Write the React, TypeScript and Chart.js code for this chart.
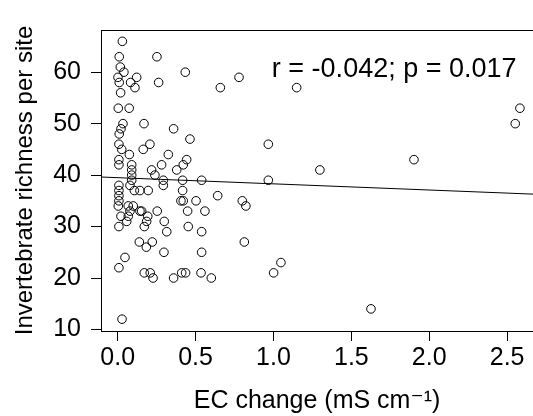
import React, { useEffect, useRef } from "react";
import { Chart, registerables } from "chart.js";

Chart.register(...registerables);

// EC change (mS cm^-1) per site
const ecChange: number[] = [
  0.030, 0.010, 0.252, 0.017, 0.040, 0.002, 0.010, 0.122, 0.083, 0.111, 0.263, 0.434, 0.659, 0.019, 0.004, 0.074, 0.034, 0.169, 0.021, 0.010, 0.359,
  0.779, 1.149, 0.967, 1.298, 0.967, 0.642, 0.800, 0.823, 0.813, 1.048, 1.001,
  2.582, 2.552, 1.902, 1.626,
  0.139, 0.222, 0.184, 0.297, 0.539, 0.047, 0.008, 0.171, 0.209, 0.227, 0.359, 0.411, 0.436, 0.535, 0.601, 0.028,
  0.008, 0.207, 0.026, 0.164, 0.464, 0.075, 0.325, 0.008, 0.008, 0.443, 0.421, 0.282, 0.090, 0.090, 0.218, 0.379, 0.090, 0.239, 0.090, 0.293,
  0.417, 0.539, 0.008, 0.079, 0.293, 0.008, 0.107, 0.143, 0.196, 0.417, 0.008, 0.008, 0.406, 0.421, 0.503, 0.004, 0.068, 0.100, 0.143, 0.154,
  0.079, 0.254, 0.449, 0.560, 0.021, 0.068, 0.193, 0.186, 0.299, 0.058, 0.008, 0.171, 0.315, 0.453, 0.539,
];

// Invertebrate richness per site
const richness: number[] = [
  66, 63, 63, 61, 60, 59, 58, 59, 58, 57, 58, 60, 57, 56, 53, 53, 50, 50, 49, 48, 49,
  59, 57, 46, 41, 39, 36, 35, 34, 27, 23, 21,
  53, 50, 43, 14,
  27, 27, 26, 25, 25, 24, 22, 21, 21, 20, 20, 21, 21, 21, 20, 12,
  46, 46, 45, 45, 47, 44, 44, 43, 42, 43, 42, 42, 42, 41, 41, 41, 40, 40, 39, 39,
  39, 39, 38, 38, 38, 37, 37, 37, 37, 37, 36, 35, 35, 35, 35, 34, 34, 34, 33, 33,
  33, 33, 33, 33, 32, 32, 32, 31, 31, 31, 30, 30, 29, 30, 29,
];

// Fitted regression line end points
const fitX: number[] = [-0.107, 2.666];
const fitY: number[] = [39.63, 36.3];

const xTickValues: number[] = [0, 0.5, 1.0, 1.5, 2.0, 2.5];
const yTickValues: number[] = [10, 20, 30, 40, 50, 60];

const xTitle = "EC change (mS cm\u207B\u00B9)";
const yTitle = "Invertebrate richness per site";
const statLabel = "r = -0.042; p = 0.017";
const statPos = { x: 1.775, y: 60.6 };

const FONT = "'Liberation Sans', Arial, Helvetica, 'DejaVu Sans', sans-serif";

const framePlugin = {
  id: "framePlugin",
  afterDraw(chart: any) {
    const { ctx, chartArea, scales } = chart;
    ctx.save();
    ctx.strokeStyle = "#000";
    ctx.lineWidth = 1;
    ctx.beginPath();
    const top = Math.round(chartArea.top) + 0.5;
    ctx.moveTo(chartArea.left, top);
    ctx.lineTo(chartArea.right, top);
    ctx.stroke();

    ctx.fillStyle = "#000";
    ctx.font = `27px ${FONT}`;
    ctx.textAlign = "center";
    ctx.textBaseline = "middle";
    ctx.fillText(statLabel, scales.x.getPixelForValue(statPos.x), scales.y.getPixelForValue(statPos.y));
    ctx.restore();
  },
};

export default function App() {
  const canvasRef = useRef<HTMLCanvasElement | null>(null);

  useEffect(() => {
    if (!canvasRef.current) return;
    const points = ecChange.map((x, i) => ({ x, y: richness[i] }));
    const line = fitX.map((x, i) => ({ x, y: fitY[i] }));
    const chart = new Chart(canvasRef.current, {
      type: "scatter",
      data: {
        datasets: [
          {
            data: points,
            pointStyle: "circle",
            pointRadius: 4.3,
            pointBorderWidth: 1,
            pointBorderColor: "#000",
            pointBackgroundColor: "rgba(0,0,0,0)",
            showLine: false,
          } as any,
          {
            data: line,
            showLine: true,
            pointRadius: 0,
            borderColor: "#000",
            borderWidth: 1,
            fill: false,
          } as any,
        ],
      },
      options: {
        animation: false,
        responsive: false,
        devicePixelRatio: 1,
        layout: { autoPadding: false, padding: { top: 30, left: 0, right: 0, bottom: 0 } },
        plugins: { legend: { display: false }, tooltip: { enabled: false } },
        scales: {
          x: {
            type: "linear",
            min: -0.107,
            max: 2.666,
            afterBuildTicks: (s: any) => {
              s.ticks = xTickValues.map((v) => ({ value: v }));
            },
            afterFit: (s: any) => {
              s.height = 85;
              s.paddingLeft = 0;
              s.paddingRight = 0;
            },
            grid: { display: true, drawOnChartArea: false, drawTicks: true, tickLength: 10, color: "#000", lineWidth: 1 },
            border: { display: true, color: "#000", width: 1 },
            ticks: {
              color: "#000",
              font: { family: FONT, size: 25 },
              padding: 2,
              maxRotation: 0,
              autoSkip: false,
              callback: (v: any) => Number(v).toFixed(1),
            },
            title: {
              display: true,
              text: xTitle,
              color: "#000",
              font: { family: FONT, size: 25 },
              padding: { top: 0, bottom: 0 },
            },
          },
          y: {
            type: "linear",
            min: 9.7,
            max: 68.2,
            afterBuildTicks: (s: any) => {
              s.ticks = yTickValues.map((v) => ({ value: v }));
            },
            afterFit: (s: any) => {
              s.width = 101;
              s.paddingTop = 0;
              s.paddingBottom = 0;
            },
            grid: { display: true, drawOnChartArea: false, drawTicks: true, tickLength: 10, color: "#000", lineWidth: 1 },
            border: { display: true, color: "#000", width: 1 },
            ticks: {
              color: "#000",
              font: { family: FONT, size: 25 },
              padding: 10,
              autoSkip: false,
              callback: (v: any) => String(v),
            },
            title: {
              display: true,
              text: yTitle,
              color: "#000",
              font: { family: FONT, size: 24 },
              padding: { top: 11, bottom: 0 },
            },
          },
        },
      },
      plugins: [framePlugin],
    } as any);
    return () => chart.destroy();
  }, []);

  return (
    <div style={{ position: "fixed", left: 0, top: 0, width: 533, height: 416, background: "#fff", overflow: "hidden" }}>
      <canvas ref={canvasRef} width={533} height={416} style={{ display: "block" }} />
    </div>
  );
}
